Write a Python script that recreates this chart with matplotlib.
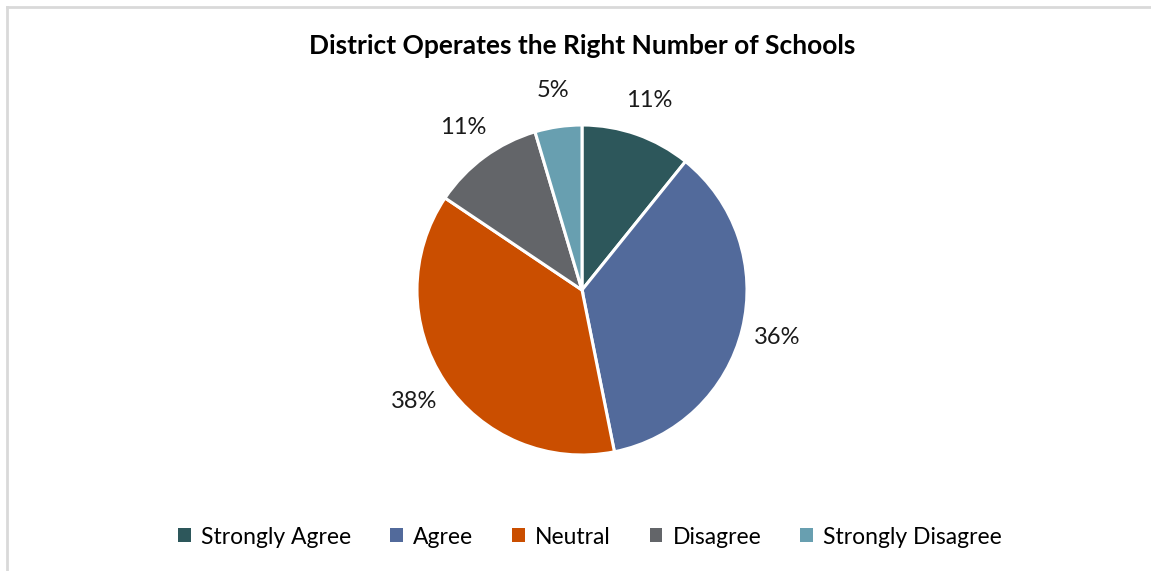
import matplotlib.pyplot as plt
from matplotlib.patches import Patch
from matplotlib.lines import Line2D

# Survey responses (share of respondents, %)
categories = ["Strongly Agree", "Agree", "Neutral", "Disagree", "Strongly Disagree"]
shares = [10.8, 36.1, 37.6, 11.0, 4.6]
colors = ["#2D575B", "#526A9B", "#CA4E00", "#636569", "#689FB0"]

plt.rcParams['font.family'] = ['Lato', 'DejaVu Sans']

W, H = 1151, 571
fig = plt.figure(figsize=(W / 100, H / 100), dpi=100)

# light chart-area frame (top and left edges visible)
fig.add_artist(Line2D([6.5 / W, 1], [1 - 6.5 / H, 1 - 6.5 / H], color="#D9D9D9", lw=2))
fig.add_artist(Line2D([6.5 / W, 6.5 / W], [0, 1 - 6.5 / H], color="#D9D9D9", lw=2))

# pie centred at (582, 290) px with radius 165 px
cx, cy, r = 582, 290, 165
ax = fig.add_axes([(cx - r) / W, (H - cy - r) / H, 2 * r / W, 2 * r / H])
wedges, texts, autotexts = ax.pie(
    shares, colors=colors, startangle=90, counterclock=False,
    autopct=lambda p: f"{p:.0f}%", pctdistance=1.22,
    wedgeprops=dict(edgecolor="white", linewidth=2.2),
    textprops=dict(fontsize=17, color="#1a1a1a"))
ax.set_xlim(-1, 1)
ax.set_ylim(-1, 1)
ax.set_aspect("equal")

fig.text(cx / W, 1 - 46 / H, "District Operates the Right Number of Schools",
         ha="center", va="center", fontsize=19, fontweight="bold", color="#000000")

handles = [Patch(facecolor=c, edgecolor="none") for c in colors]
fig.legend(handles, categories, loc="center", bbox_to_anchor=(590 / W, 1 - 537 / H),
           ncol=5, frameon=False, fontsize=16.5, handlelength=0.55, handleheight=0.55,
           handletextpad=0.45, columnspacing=1.7)

fig.savefig("out.png", dpi=100)
